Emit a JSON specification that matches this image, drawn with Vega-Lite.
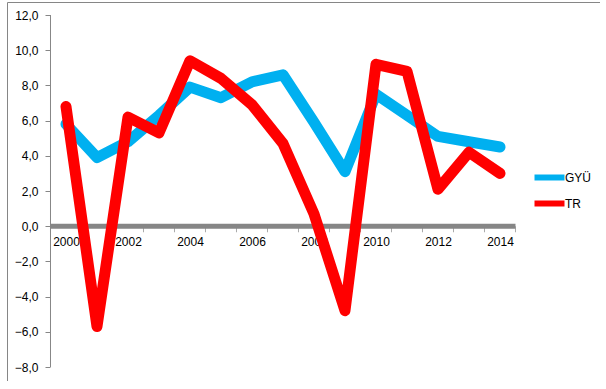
{
  "$schema": "https://vega.github.io/schema/vega-lite/v6.json",
  "autosize": {"type": "none"},
  "width": 593,
  "height": 379,
  "padding": {"left": 7, "top": 2, "right": 0, "bottom": 0},
  "background": "white",
  "config": {
    "view": {"stroke": "#868686", "strokeWidth": 1},
    "font": "Liberation Sans",
    "axis": {"labelFont": "Liberation Sans", "labelFontSize": 12, "labelColor": "#000000", "grid": false, "title": null, "labelOverlap": false}
  },
  "datasets": {
    "series": [
      {"year": 2000, "value": 5.8, "series": "GYÜ"},
      {"year": 2001, "value": 3.9, "series": "GYÜ"},
      {"year": 2002, "value": 4.8, "series": "GYÜ"},
      {"year": 2003, "value": 6.3, "series": "GYÜ"},
      {"year": 2004, "value": 7.9, "series": "GYÜ"},
      {"year": 2005, "value": 7.3, "series": "GYÜ"},
      {"year": 2006, "value": 8.2, "series": "GYÜ"},
      {"year": 2007, "value": 8.6, "series": "GYÜ"},
      {"year": 2008, "value": 5.9, "series": "GYÜ"},
      {"year": 2009, "value": 3.1, "series": "GYÜ"},
      {"year": 2010, "value": 7.5, "series": "GYÜ"},
      {"year": 2011, "value": 6.3, "series": "GYÜ"},
      {"year": 2012, "value": 5.1, "series": "GYÜ"},
      {"year": 2013, "value": 4.8, "series": "GYÜ"},
      {"year": 2014, "value": 4.5, "series": "GYÜ"},
      {"year": 2000, "value": 6.8, "series": "TR"},
      {"year": 2001, "value": -5.7, "series": "TR"},
      {"year": 2002, "value": 6.2, "series": "TR"},
      {"year": 2003, "value": 5.3, "series": "TR"},
      {"year": 2004, "value": 9.4, "series": "TR"},
      {"year": 2005, "value": 8.4, "series": "TR"},
      {"year": 2006, "value": 6.9, "series": "TR"},
      {"year": 2007, "value": 4.7, "series": "TR"},
      {"year": 2008, "value": 0.7, "series": "TR"},
      {"year": 2009, "value": -4.8, "series": "TR"},
      {"year": 2010, "value": 9.2, "series": "TR"},
      {"year": 2011, "value": 8.8, "series": "TR"},
      {"year": 2012, "value": 2.1, "series": "TR"},
      {"year": 2013, "value": 4.2, "series": "TR"},
      {"year": 2014, "value": 3.0, "series": "TR"}
    ],
    "xaxis": [{"x1": 1999.5, "x2": 2014.5, "y": 0}],
    "yaxis": [{"x": 1999.5, "y1": -8, "y2": 12}],
    "xticks": [
      {"b": 1999.5}, {"b": 2000.5}, {"b": 2001.5}, {"b": 2002.5}, {"b": 2003.5},
      {"b": 2004.5}, {"b": 2005.5}, {"b": 2006.5}, {"b": 2007.5}, {"b": 2008.5},
      {"b": 2009.5}, {"b": 2010.5}, {"b": 2011.5}, {"b": 2012.5}, {"b": 2013.5}, {"b": 2014.5}
    ]
  },
  "layer": [
    {
      "data": {"name": "yaxis"},
      "mark": {"type": "rule", "color": "#868686", "strokeWidth": 1},
      "encoding": {
        "x": {"field": "x", "type": "quantitative", "scale": {"domain": [1998.097, 2017.226], "nice": false, "zero": false},
          "axis": {"orient": "bottom", "offset": -154, "values": [2000, 2002, 2004, 2006, 2008, 2010, 2012, 2014], "tickCount": 30, "format": "d", "domain": false, "ticks": false, "labelPadding": 9, "labelFlush": false, "labelOverlap": false}},
        "y": {"field": "y1", "type": "quantitative", "scale": {"domain": [-8.795, 12.739], "nice": false, "zero": false},
          "axis": {"orient": "left", "offset": -43, "values": [-8, -6, -4, -2, 0, 2, 4, 6, 8, 10, 12], "tickCount": 30, "labelExpr": "replace(format(datum.value, '.1f'), '.', ',')", "domain": false, "ticks": true, "tickSize": 5, "tickColor": "#868686", "labelPadding": 7, "labelFlush": false, "labelOverlap": false, "labelBound": false}},
        "y2": {"field": "y2"}
      }
    },
    {
      "data": {"name": "xticks"},
      "mark": {"type": "tick", "orient": "vertical", "color": "#868686", "size": 6, "thickness": 1, "yOffset": 3},
      "encoding": {
        "x": {"field": "b", "type": "quantitative"},
        "y": {"datum": 0, "type": "quantitative"}
      }
    },
    {
      "data": {"name": "xaxis"},
      "mark": {"type": "rule", "color": "#868686", "strokeWidth": 5},
      "encoding": {
        "x": {"field": "x1", "type": "quantitative"},
        "x2": {"field": "x2"},
        "y": {"field": "y", "type": "quantitative"}
      }
    },
    {
      "data": {"name": "series"},
      "mark": {"type": "line", "strokeWidth": 11, "strokeCap": "round", "strokeJoin": "round"},
      "encoding": {
        "x": {"field": "year", "type": "quantitative"},
        "y": {"field": "value", "type": "quantitative"},
        "color": {
          "field": "series", "type": "nominal",
          "scale": {"domain": ["GYÜ", "TR"], "range": ["#00B0F0", "#FF0000"]},
          "legend": {
            "title": null, "orient": "none", "legendX": 532, "legendY": 165,
            "symbolType": "M-2,0H2", "symbolSize": 225, "symbolStrokeWidth": 6,
            "labelFontSize": 12, "labelFont": "Liberation Sans", "labelColor": "#000000",
            "labelOffset": 5, "rowPadding": 1, "symbolOffset": 0
          }
        },
        "order": {"field": "series"}
      }
    }
  ]
}
